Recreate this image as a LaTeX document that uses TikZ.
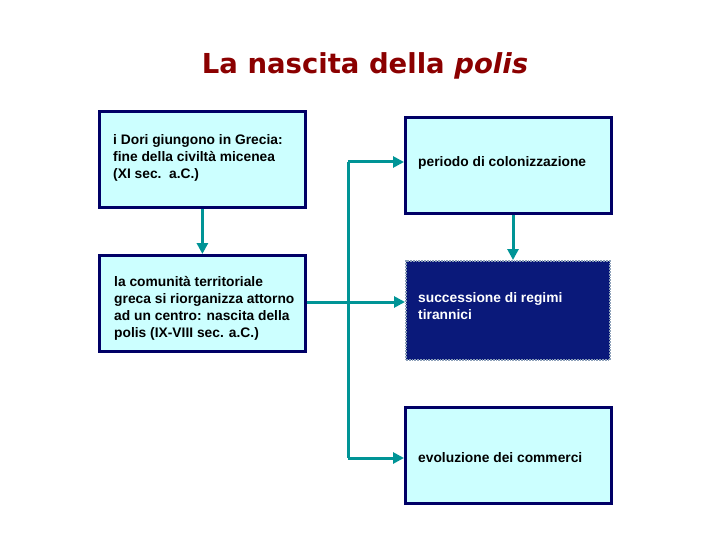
\documentclass[tikz,border=0pt]{standalone}
\usepackage{fontspec}
\setmainfont{Liberation Sans}
\newfontfamily\titlefont{DejaVu Sans}
\usetikzlibrary{arrows.meta}
\definecolor{boxfill}{HTML}{CCFFFF}
\definecolor{boxline}{HTML}{000066}
\definecolor{darkfill}{HTML}{0A197A}
\definecolor{darkline}{HTML}{8CA0B8}
\definecolor{arrowc}{HTML}{009496}
\definecolor{titlec}{HTML}{8B0000}
\begin{document}
\begin{tikzpicture}[x=1pt,y=-1pt,
  lbox/.style={draw=boxline,line width=2.8pt,fill=boxfill,anchor=north west,inner sep=0pt},
  txt/.style={anchor=north west,align=left,font=\bfseries\fontsize{13.8}{17}\selectfont,inner sep=0pt},
  conn/.style={draw=arrowc,line width=3pt,-{Triangle[length=11pt,width=11pt]}},
  line/.style={draw=arrowc,line width=3pt}]
\useasboundingbox (0,0) rectangle (720,540);
\node[anchor=center,text=titlec,font=\titlefont\bfseries\fontsize{27.5}{32}\selectfont] (title) at (365,66) {La nascita della \textit{polis}};
% boxes
\node[lbox,minimum width=206pt,minimum height=96pt] (b1) at (98,110) {};
\node[lbox,minimum width=206pt,minimum height=96pt] (b2) at (98,254) {};
\node[lbox,minimum width=206pt,minimum height=96pt] (b3) at (404,116) {};
\node[draw=darkline,line width=1.8pt,densely dotted,fill=darkfill,anchor=north west,inner sep=0pt,minimum width=204pt,minimum height=99pt] (b4) at (405,260) {};
\node[lbox,minimum width=206pt,minimum height=96pt] (b5) at (404,406) {};
% texts
\node[txt] (t1) at (113,134) {i Dori giungono in Grecia:\\fine della civiltà micenea\\(XI sec.\ \ a.C.)};
\node[txt] (t2) at (114,276) {la comunità territoriale\\greca si riorganizza attorno\\ad un centro: nascita della\\polis (IX-VIII sec. a.C.)};
\node[txt] (t3) at (418,156) {periodo di colonizzazione};
\node[txt,text=white] (t4) at (418,292) {successione di regimi\\tirannici};
\node[txt] (t5) at (418,452) {evoluzione dei commerci};
% connectors
\coordinate (j) at (348,302);
\coordinate (top) at (348,162);
\coordinate (bot) at (348,458);
\draw[conn] (b1.south) -- (b2.north);
\draw[conn] (b3.south -| 513,0) -- (b4.north -| 513,0);
\draw[conn] (b2.east |- j) -- (b4.west |- j);
\draw[line] (top) -- (bot);
\draw[conn] (top) -- (b3.west |- top);
\draw[conn] (bot) -- (b5.west |- bot);
\end{tikzpicture}
\end{document}
